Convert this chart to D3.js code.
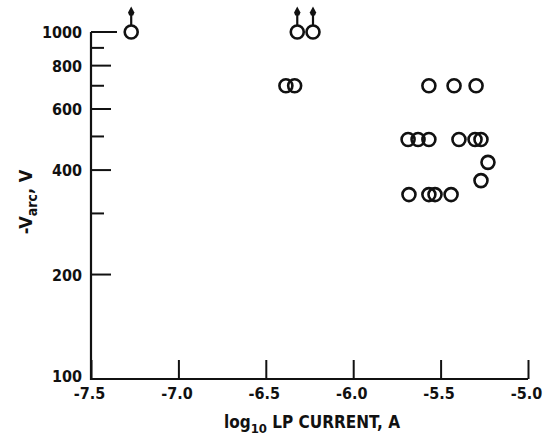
<!DOCTYPE html>
<html>
<head>
<meta charset="utf-8">
<script src="https://cdn.jsdelivr.net/npm/d3@7"></script>
<style>
  body { margin: 0; background: #fff; }
  text { font-family: "Liberation Sans Narrow", "DejaVu Sans Condensed", sans-serif; font-weight: bold; fill: #111; }
</style>
</head>
<body>
<div id="chart"></div>
<script>
// Arc voltage vs LP current (log10)
const xTicks = [-7.5, -7.0, -6.5, -6.0, -5.5, -5.0];
const xTickLabels = ['-7.5', '-7.0', '-6.5', '-6.0', '-5.5', '-5.0'];
const yMajor = [200, 400, 600, 800, 1000];
const yMinor = [300, 500, 700, 900];
const yLabels = [100, 200, 400, 600, 800, 1000];

const logCurrent = [-7.27, -6.32, -6.23, -6.385, -6.335,
    -5.567, -5.423, -5.297,
    -5.686, -5.629, -5.567, -5.395, -5.303, -5.269,
    -5.229, -5.269,
    -5.681, -5.567, -5.532, -5.44];
const arcVolts = [1000, 1000, 1000, 700, 700,
    700, 700, 700,
    490, 490, 490, 490, 490, 490,
    421, 373,
    340, 340, 340, 340];
// points whose true value lies above the plotted one (drawn with an up arrow)
const offScale = [true, true, true, false, false,
    false, false, false,
    false, false, false, false, false, false,
    false, false,
    false, false, false, false];

const width = 549, height = 440;
const margin = { top: 32, right: 21, bottom: 61, left: 91 };

const svg = d3.select('#chart')
    .append('svg')
    .attr('width', width)
    .attr('height', height);

const x = d3.scaleLinear()
    .domain([-7.5, -5.0])
    .range([margin.left, width - margin.right]);

const y = d3.scaleLog()
    .domain([100, 1000])
    .range([height - margin.bottom, margin.top]);

// Axes (ticks point inward)
const yAxis = svg.append('g')
    .attr('transform', `translate(${margin.left},0)`)
    .call(d3.axisLeft(y).tickValues(yLabels).tickFormat(d3.format('d')).tickSize(0).tickPadding(9));
yAxis.select('.domain').remove();
yAxis.selectAll('text').style('font-size', '16px').attr('dy', '0.36em');
yAxis.selectAll('.tick').filter(d => d === 100).select('text').attr('dy', '0.15em');

svg.selectAll('.y-major')
    .data(yMajor)
    .enter()
    .append('line')
    .attr('x1', margin.left)
    .attr('x2', d => margin.left + (d === 1000 ? 26 : 20))
    .attr('y1', d => y(d))
    .attr('y2', d => y(d))
    .attr('stroke', '#111')
    .attr('stroke-width', 2);

svg.selectAll('.y-minor')
    .data(yMinor)
    .enter()
    .append('line')
    .attr('x1', margin.left)
    .attr('x2', margin.left + 13)
    .attr('y1', d => y(d))
    .attr('y2', d => y(d))
    .attr('stroke', '#111')
    .attr('stroke-width', 2);

const xAxis = svg.append('g')
    .attr('transform', `translate(0,${height - margin.bottom})`)
    .call(d3.axisBottom(x).tickValues(xTicks)
        .tickFormat((d, i) => xTickLabels[i])
        .tickSizeInner(-19).tickSizeOuter(0).tickPadding(9));
xAxis.select('.domain').remove();
xAxis.selectAll('line').attr('stroke', '#111').attr('stroke-width', 2);
xAxis.selectAll('text').style('font-size', '16px').attr('dx', '-2px');

// L-shaped frame
svg.append('path')
    .attr('d', `M${margin.left},${y(1000)}V${y(100)}H${x(-5.0)}`)
    .attr('fill', 'none')
    .attr('stroke', '#111')
    .attr('stroke-width', 2.2);

// Data points
const pts = logCurrent.map((v, i) => ({ x: v, y: arcVolts[i], up: offScale[i] }));
const r = 6.5;

const arrows = svg.selectAll('.arrow')
    .data(pts.filter(d => d.up))
    .enter()
    .append('g');
arrows.append('line')
    .attr('x1', d => x(d.x))
    .attr('x2', d => x(d.x))
    .attr('y1', d => y(d.y) - r)
    .attr('y2', d => y(d.y) - r - 14)
    .attr('stroke', '#111')
    .attr('stroke-width', 2.2);
arrows.append('path')
    .attr('d', d => {
        const cx = x(d.x), top = y(d.y) - r - 19;
        return `M${cx},${top}L${cx + 3.2},${top + 6}L${cx + 2},${top + 9}L${cx - 2},${top + 9}L${cx - 3.2},${top + 6}Z`;
    })
    .attr('fill', '#111');

svg.selectAll('.pt')
    .data(pts)
    .enter()
    .append('circle')
    .attr('cx', d => x(d.x))
    .attr('cy', d => y(d.y))
    .attr('r', r)
    .attr('fill', 'none')
    .attr('stroke', '#111')
    .attr('stroke-width', 2.6);

// Axis titles
const xTitle = svg.append('text')
    .attr('x', 312)
    .attr('y', 428)
    .attr('text-anchor', 'middle')
    .style('font-size', '17px');
xTitle.append('tspan').text('log');
xTitle.append('tspan').attr('dy', 5).style('font-size', '13px').text('10');
xTitle.append('tspan').attr('dy', -5).text(' LP CURRENT,  A');

const yTitle = svg.append('text')
    .attr('transform', 'translate(32,202) rotate(-90)')
    .attr('text-anchor', 'middle')
    .style('font-size', '18px');
yTitle.append('tspan').text('-V');
yTitle.append('tspan').attr('dy', 5).style('font-size', '14px').text('arc');
yTitle.append('tspan').attr('dy', -5).text(',  V');
</script>
</body>
</html>
